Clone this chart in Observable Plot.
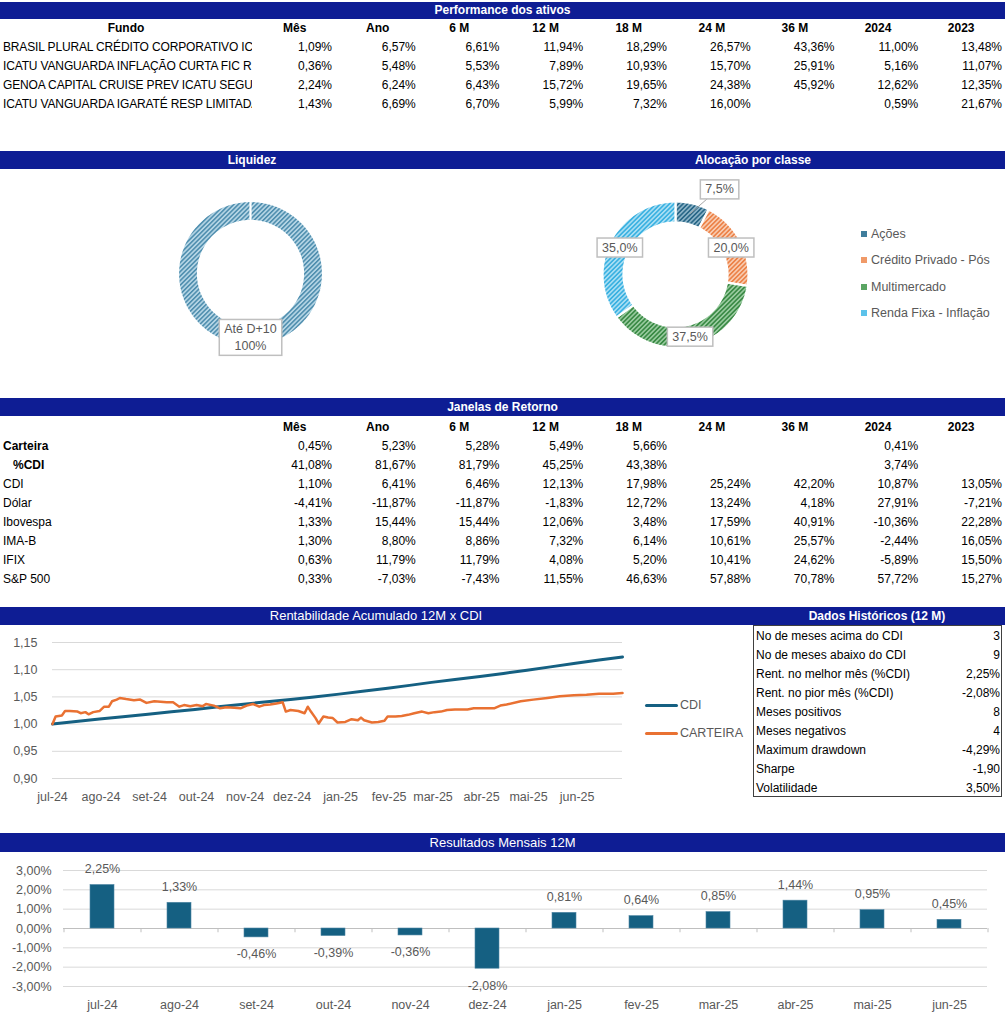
<!DOCTYPE html>
<html><head><meta charset="utf-8">
<script src="https://cdn.jsdelivr.net/npm/d3@7"></script>
<script src="https://cdn.jsdelivr.net/npm/@observablehq/plot@0.6"></script>
<style>
body{margin:0;width:1005px;height:1024px;position:relative;overflow:hidden;background:#fff;font-family:"Liberation Sans",Arial,sans-serif;color:#000;}
.band{position:absolute;background:#0E1D94;color:#fff;font-size:12px;white-space:nowrap;}
.t{position:absolute;white-space:nowrap;font-size:12px;}
</style></head><body>
<svg width="0" height="0" style="position:absolute">
  <defs>
    <pattern id="p-liq" width="3.2" height="3.2" patternUnits="userSpaceOnUse" patternTransform="rotate(45)"><rect width="3.2" height="3.2" fill="#B3D4E4"/><rect width="1.5" height="3.2" fill="#4C8CAD"/></pattern>
    <pattern id="p-acoes" width="3.2" height="3.2" patternUnits="userSpaceOnUse" patternTransform="rotate(45)"><rect width="3.2" height="3.2" fill="#8DB4C8"/><rect width="1.6" height="3.2" fill="#2A6888"/></pattern>
    <pattern id="p-cred" width="3.2" height="3.2" patternUnits="userSpaceOnUse" patternTransform="rotate(45)"><rect width="3.2" height="3.2" fill="#F8CBB0"/><rect width="1.6" height="3.2" fill="#EC8248"/></pattern>
    <pattern id="p-multi" width="3.2" height="3.2" patternUnits="userSpaceOnUse" patternTransform="rotate(45)"><rect width="3.2" height="3.2" fill="#98CA9E"/><rect width="1.6" height="3.2" fill="#3A8A45"/></pattern>
    <pattern id="p-renda" width="3.2" height="3.2" patternUnits="userSpaceOnUse" patternTransform="rotate(45)"><rect width="3.2" height="3.2" fill="#A8DEF3"/><rect width="1.6" height="3.2" fill="#3AB1E1"/></pattern>
  </defs>
</svg>
<script>
// ---------------- DATA ----------------
const colunas = ["Mês","Ano","6 M","12 M","18 M","24 M","36 M","2024","2023"];
const fundos = [
  "BRASIL PLURAL CRÉDITO CORPORATIVO ICA",
  "ICATU VANGUARDA INFLAÇÃO CURTA FIC R",
  "GENOA CAPITAL CRUISE PREV ICATU SEGUR",
  "ICATU VANGUARDA IGARATÉ RESP LIMITADA"
];
const perfFundos = [
  [1.09, 6.57, 6.61, 11.94, 18.29, 26.57, 43.36, 11.00, 13.48],
  [0.36, 5.48, 5.53, 7.89, 10.93, 15.70, 25.91, 5.16, 11.07],
  [2.24, 6.24, 6.43, 15.72, 19.65, 24.38, 45.92, 12.62, 12.35],
  [1.43, 6.69, 6.70, 5.99, 7.32, 16.00, null, 0.59, 21.67]
];

const liquidezClasses = ["Até D+10"];
const liquidezValores = [100];

const classes = ["Ações","Crédito Privado - Pós","Multimercado","Renda Fixa - Inflação"];
const alocacao = [7.5, 20.0, 37.5, 35.0];

const janelasRotulos = ["Carteira","%CDI","CDI","Dólar","Ibovespa","IMA-B","IFIX","S&P 500"];
const janelasValores = [
  [0.45, 5.23, 5.28, 5.49, 5.66, null, null, 0.41, null],
  [41.08, 81.67, 81.79, 45.25, 43.38, null, null, 3.74, null],
  [1.10, 6.41, 6.46, 12.13, 17.98, 25.24, 42.20, 10.87, 13.05],
  [-4.41, -11.87, -11.87, -1.83, 12.72, 13.24, 4.18, 27.91, -7.21],
  [1.33, 15.44, 15.44, 12.06, 3.48, 17.59, 40.91, -10.36, 22.28],
  [1.30, 8.80, 8.86, 7.32, 6.14, 10.61, 25.57, -2.44, 16.05],
  [0.63, 11.79, 11.79, 4.08, 5.20, 10.41, 24.62, -5.89, 15.50],
  [0.33, -7.03, -7.43, 11.55, 46.63, 57.88, 70.78, 57.72, 15.27]
];

const datasCDI = ["2024-07-01","2024-07-16","2024-07-31","2024-08-15","2024-08-31","2024-09-15","2024-09-30","2024-10-15","2024-10-31","2024-11-15","2024-11-30","2024-12-15","2024-12-31","2025-01-15","2025-01-31","2025-02-14","2025-02-28","2025-03-15","2025-03-31","2025-04-15","2025-04-30","2025-05-15","2025-05-31","2025-06-15","2025-06-30"];
const valoresCDI = [1.0000,1.0046,1.0092,1.0136,1.0182,1.0225,1.0269,1.0317,1.0367,1.0409,1.0452,1.0500,1.0551,1.0604,1.0659,1.0712,1.0767,1.0820,1.0873,1.0931,1.0990,1.1052,1.1117,1.1178,1.1235];

const datasCarteira = ["2024-07-01","2024-07-03","2024-07-05","2024-07-07","2024-07-09","2024-07-12","2024-07-17","2024-07-19","2024-07-22","2024-07-24","2024-07-27","2024-07-31","2024-08-03","2024-08-06","2024-08-08","2024-08-11","2024-08-13","2024-08-17","2024-08-22","2024-08-26","2024-08-30","2024-09-04","2024-09-08","2024-09-12","2024-09-16","2024-09-20","2024-09-23","2024-09-27","2024-10-01","2024-10-05","2024-10-07","2024-10-12","2024-10-16","2024-10-20","2024-10-25","2024-10-29","2024-11-02","2024-11-06","2024-11-10","2024-11-13","2024-11-17","2024-11-21","2024-11-25","2024-11-27","2024-11-30","2024-12-05","2024-12-09","2024-12-11","2024-12-13","2024-12-16","2024-12-18","2024-12-21","2024-12-24","2024-12-27","2024-12-30","2025-01-04","2025-01-08","2025-01-12","2025-01-14","2025-01-16","2025-01-21","2025-01-25","2025-01-29","2025-01-31","2025-02-05","2025-02-09","2025-02-13","2025-02-17","2025-02-22","2025-02-26","2025-03-02","2025-03-06","2025-03-10","2025-03-15","2025-03-19","2025-03-23","2025-03-27","2025-03-31","2025-04-04","2025-04-09","2025-04-13","2025-04-17","2025-04-26","2025-05-04","2025-05-13","2025-05-21","2025-05-30","2025-06-07","2025-06-15","2025-06-24","2025-06-30"];
const valoresCarteira = [1.000,1.014,1.015,1.016,1.024,1.024,1.023,1.020,1.022,1.018,1.022,1.024,1.032,1.032,1.042,1.045,1.048,1.046,1.044,1.045,1.039,1.042,1.041,1.040,1.040,1.032,1.035,1.033,1.035,1.033,1.037,1.034,1.029,1.031,1.030,1.029,1.034,1.037,1.032,1.035,1.036,1.038,1.040,1.023,1.026,1.024,1.020,1.032,1.023,1.011,1.001,1.014,1.012,1.011,1.003,1.004,1.009,1.007,1.012,1.007,1.003,1.004,1.006,1.014,1.014,1.015,1.017,1.020,1.023,1.020,1.022,1.023,1.026,1.027,1.027,1.027,1.029,1.029,1.029,1.029,1.034,1.036,1.042,1.045,1.048,1.051,1.053,1.054,1.056,1.056,1.057];
const linhaYTicks = [0.90, 0.95, 1.00, 1.05, 1.10, 1.15];

const historicoRotulos = ["No de meses acima do CDI","No de meses abaixo do CDI","Rent. no melhor mês (%CDI)","Rent. no pior mês (%CDI)","Meses positivos","Meses negativos","Maximum drawdown","Sharpe","Volatilidade"];
const historicoValores = ["3","9","2,25%","-2,08%","8","4","-4,29%","-1,90","3,50%"];

const meses12 = ["jul-24","ago-24","set-24","out-24","nov-24","dez-24","jan-25","fev-25","mar-25","abr-25","mai-25","jun-25"];
const resultadosMensais = [2.25, 1.33, -0.46, -0.39, -0.36, -2.08, 0.81, 0.64, 0.85, 1.44, 0.95, 0.45];
const barYTicks = [-3, -2, -1, 0, 1, 2, 3];

// ---------------- HELPERS ----------------
const GRAY = "#595959", GRID = "#D9D9D9";
const FONT = '"Liberation Sans", Arial, sans-serif';
const nomesMes = ["jan","fev","mar","abr","mai","jun","jul","ago","set","out","nov","dez"];
const fmtPct = v => v == null ? "" : v.toFixed(2).replace(".", ",") + "%";
const fmtDec = v => v.toFixed(2).replace(".", ",");
const fmtMes = d => nomesMes[d.getUTCMonth()] + "-" + String(d.getUTCFullYear()).slice(2);
const root = document.body;
function div(cls, style, text) {
  const e = document.createElement("div");
  e.className = cls;
  Object.assign(e.style, style);
  if (text != null) e.textContent = text;
  root.appendChild(e);
  return e;
}
function place(svg, left, top) {
  svg.style.position = "absolute";
  svg.style.left = left + "px";
  svg.style.top = top + "px";
  root.appendChild(svg);
}
function band(top, h, left, width) {
  div("band", {top: top + "px", height: h + "px", left: left + "px", width: width + "px"});
}
function bandText(text, top, h, left, width, bold) {
  div("t", {top: top + "px", height: h + "px", lineHeight: h + "px", left: left + "px", width: width + "px",
    textAlign: "center", color: "#fff", fontWeight: bold ? "bold" : "normal", fontSize: bold ? "12px" : "13px"}, text);
}
const headLeft = i => 283 + 83.1 * i;
const valRight = i => 332 + 83.75 * i;
function headerRow(centerY) {
  colunas.forEach((c, i) => div("t", {left: headLeft(i) + "px", top: (centerY - 9.5) + "px", lineHeight: "19px", fontWeight: "bold"}, c));
}
function valueRow(vals, centerY) {
  vals.forEach((v, i) => div("t", {left: (valRight(i) - 80) + "px", width: "80px", textAlign: "right", top: (centerY - 9.5) + "px", lineHeight: "19px"}, fmtPct(v)));
}

// ---------------- PERFORMANCE DOS ATIVOS ----------------
band(2, 17, 0, 1005);
bandText("Performance dos ativos", 2, 17, 0, 1005, true);
div("t", {left: "86px", width: "80px", textAlign: "center", top: "18.5px", lineHeight: "19px", fontWeight: "bold"}, "Fundo");
headerRow(28);
fundos.forEach((f, k) => {
  const cy = 47 + 19.3 * k;
  div("t", {left: "3px", width: "249px", overflow: "hidden", top: (cy - 9.5) + "px", lineHeight: "19px", letterSpacing: "-0.15px"}, f);
  valueRow(perfFundos[k], cy);
});

// ---------------- LIQUIDEZ / ALOCAÇÃO ----------------
band(151, 18, 0, 1005);
bandText("Liquidez", 151, 18, 0, 504, true);
bandText("Alocação por classe", 151, 18, 504, 498, true);

const square = {type: "Polygon", coordinates: [[[-1, -1], [1, -1], [1, 1], [-1, 1], [-1, -1]]]};
function ringCoords(a0, a1, r, R) {
  const n = Math.max(2, Math.ceil((a1 - a0) / (2 * Math.PI) * 240));
  const outer = d3.range(n + 1).map(k => { const a = a0 + (a1 - a0) * k / n; return [R * Math.sin(a), -R * Math.cos(a)]; });
  const inner = d3.range(n + 1).map(k => { const a = a1 - (a1 - a0) * k / n; return [r * Math.sin(a), -r * Math.cos(a)]; });
  const ring = outer.concat(inner);
  ring.push(ring[0]);
  return ring;
}
function donut(values, names, patterns, R, r, labelFmt, left, top) {
  const total = d3.sum(values);
  let acc = 0;
  const slices = values.map((v, i) => {
    const a0 = acc / total * 2 * Math.PI; acc += v;
    const a1 = acc / total * 2 * Math.PI;
    return {i, name: names[i], value: v, a0, a1};
  });
  const mid = (R + r) / 2;
  const labels = slices.map(s => {
    const am = (s.a0 + s.a1) / 2;
    const cx = mid * Math.sin(am), cy = -mid * Math.cos(am);
    const small = s.value / total < 0.1;
    const la = small ? s.a1 : am, lr = small ? R * 1.33 : mid;
    return {cx, cy, x: lr * Math.sin(la), y: -lr * Math.cos(la), small, label: labelFmt(s)};
  });
  const marks = slices.map(s => Plot.geo([{type: "Feature", properties: s, geometry: {type: "Polygon", coordinates: [ringCoords(s.a0, s.a1, r, R)]}}],
    {fill: patterns[s.i], stroke: "#fff", strokeWidth: 2.2}));
  marks.push(Plot.link(labels.filter(d => d.small), {x1: "x", y1: "y", x2: "cx", y2: "cy", stroke: "#A6A6A6", strokeWidth: 1, curve: "linear"}));
  marks.push(Plot.text(labels, {x: "x", y: "y", text: "label", fill: GRAY, fontSize: 12.5, lineHeight: 1.35}));
  const svg = Plot.plot({width: 200, height: 200, margin: 0, projection: {type: "identity", domain: square},
    style: {fontFamily: FONT, background: "transparent", overflow: "visible"}, marks});
  place(svg, left, top);
  svg.querySelectorAll('g[aria-label="text"] text').forEach(t => {
    const b = t.getBBox();
    const rect = document.createElementNS("http://www.w3.org/2000/svg", "rect");
    rect.setAttribute("x", b.x - 5); rect.setAttribute("y", b.y - 2.5);
    rect.setAttribute("width", b.width + 10); rect.setAttribute("height", b.height + 5);
    rect.setAttribute("fill", "#fff"); rect.setAttribute("stroke", "#BFBFBF"); rect.setAttribute("stroke-width", "1.5");
    if (t.getAttribute("transform")) rect.setAttribute("transform", t.getAttribute("transform"));
    t.parentNode.insertBefore(rect, t);
  });
  return svg;
}
donut(liquidezValores, liquidezClasses, ["url(#p-liq)"], 0.725, 0.525,
  s => s.name + "\n" + s.value.toFixed(0) + "%", 150, 173);
donut(alocacao, classes, ["url(#p-acoes)", "url(#p-cred)", "url(#p-multi)", "url(#p-renda)"], 0.73, 0.52,
  s => s.value.toFixed(1).replace(".", ",") + "%", 575, 174);
const legendColors = ["#3F7D9C", "#F09A68", "#5AA563", "#5CC2EA"];
classes.forEach((c, i) => {
  const cy = 234 + 26.4 * i;
  div("t", {left: "861px", top: (cy - 3) + "px", width: "6px", height: "6px", background: legendColors[i]});
  div("t", {left: "871px", top: (cy - 9) + "px", lineHeight: "18px", fontSize: "12.5px", color: GRAY}, c);
});

// ---------------- JANELAS DE RETORNO ----------------
band(398, 18, 0, 1005);
bandText("Janelas de Retorno", 398, 18, 0, 1005, true);
headerRow(427);
janelasRotulos.forEach((lab, k) => {
  const cy = 446 + 19 * k;
  const bold = k < 2;
  div("t", {left: (k === 1 ? 13 : 3) + "px", top: (cy - 9.5) + "px", lineHeight: "19px", fontWeight: bold ? "bold" : "normal"}, lab);
  valueRow(janelasValores[k], cy);
});

// ---------------- RENTABILIDADE ACUMULADA ----------------
band(607, 18, 0, 1005);
bandText("Rentabilidade Acumulado 12M x CDI", 607, 18, 0, 752, false);
bandText("Dados Históricos (12 M)", 607, 18, 752, 250, true);

const cdi = datasCDI.map((d, i) => ({data: new Date(d), valor: valoresCDI[i]}));
const carteira = datasCarteira.map((d, i) => ({data: new Date(d), valor: valoresCarteira[i]}));
const xStart = new Date("2024-07-01"), xEnd = new Date("2025-06-30");
const mesTicks = d3.utcMonth.range(xStart, xEnd);
const lineSvg = Plot.plot({
  width: 750, height: 180, marginLeft: 52, marginRight: 128, marginTop: 17, marginBottom: 27,
  style: {fontFamily: FONT, fontSize: "12.5px", color: GRAY, background: "transparent"},
  x: {type: "utc", domain: [xStart, xEnd], label: null},
  y: {domain: [0.90, 1.15], label: null},
  marks: [
    Plot.gridY(linhaYTicks, {stroke: GRID, strokeOpacity: 1, strokeWidth: 1}),
    Plot.axisX({ticks: mesTicks, tickFormat: fmtMes, tickSize: 0, tickPadding: 14, label: null, fill: GRAY}),
    Plot.axisY({ticks: linhaYTicks, tickFormat: fmtDec, tickSize: 0, tickPadding: 15, label: null, fill: GRAY}),
    Plot.line(cdi, {x: "data", y: "valor", stroke: "#156082", strokeWidth: 3, strokeLinejoin: "round", strokeLinecap: "round"}),
    Plot.line(carteira, {x: "data", y: "valor", stroke: "#E97132", strokeWidth: 2.5, strokeLinejoin: "round", strokeLinecap: "round"})
  ]
});
place(lineSvg, 0, 625);
[["CDI", "#156082", 705], ["CARTEIRA", "#E97132", 733]].forEach(([n, c, cy]) => {
  div("t", {left: "645px", top: (cy - 1.5) + "px", width: "33px", height: "3px", background: c, borderRadius: "2px"});
  div("t", {left: "680px", top: (cy - 9) + "px", lineHeight: "18px", fontSize: "12.5px", color: GRAY}, n);
});

div("t", {left: "753px", top: "625px", width: "247px", height: "170px", border: "1px solid #404040"});
historicoRotulos.forEach((lab, k) => {
  const cy = 636 + 19 * k;
  div("t", {left: "756px", top: (cy - 9.5) + "px", lineHeight: "19px"}, lab);
  div("t", {left: "900px", width: "100px", textAlign: "right", top: (cy - 9.5) + "px", lineHeight: "19px"}, historicoValores[k]);
});

// ---------------- RESULTADOS MENSAIS ----------------
band(833, 19, 0, 1005);
bandText("Resultados Mensais 12M", 833, 19, 0, 1005, false);
const barras = meses12.map((m, i) => ({mes: m, valor: resultadosMensais[i]}));
const bW = 1005, bML = 63, bMR = 18;
const stepB = (bW - bML - bMR) / meses12.length;
const barSvg = Plot.plot({
  width: bW, height: 172, marginLeft: bML, marginRight: bMR, marginTop: 18, marginBottom: 38,
  style: {fontFamily: FONT, fontSize: "12.5px", color: GRAY, background: "transparent"},
  x: {domain: meses12, paddingInner: 0.69, paddingOuter: 0.345, label: null},
  y: {domain: [-3, 3], label: null},
  marks: [
    Plot.gridY(barYTicks.filter(t => t !== 0), {stroke: GRID, strokeOpacity: 1}),
    Plot.axisX({tickSize: 0, tickPadding: 14, label: null, fill: GRAY}),
    Plot.axisY({ticks: barYTicks, tickFormat: fmtPct, tickSize: 0, tickPadding: 12, label: null, fill: GRAY}),
    Plot.ruleY([0], {stroke: "#BFBFBF", strokeWidth: 1}),
    Plot.ruleX(barras, {x: "mes", y1: 0, y2: -0.22, dx: -stepB / 2, stroke: "#BFBFBF"}),
    Plot.ruleX(barras.slice(-1), {x: "mes", y1: 0, y2: -0.22, dx: stepB / 2, stroke: "#BFBFBF"}),
    Plot.barY(barras, {x: "mes", y: "valor", fill: "#156082", stroke: "#4F86A3", strokeWidth: 0.6}),
    Plot.text(barras, {filter: d => d.valor >= 0, x: "mes", y: "valor", text: d => fmtPct(d.valor), dy: -16, fill: GRAY}),
    Plot.text(barras, {filter: d => d.valor < 0, x: "mes", y: "valor", text: d => fmtPct(d.valor), dy: 17, fill: GRAY})
  ]
});
place(barSvg, 0, 852);
</script>
</body></html>
